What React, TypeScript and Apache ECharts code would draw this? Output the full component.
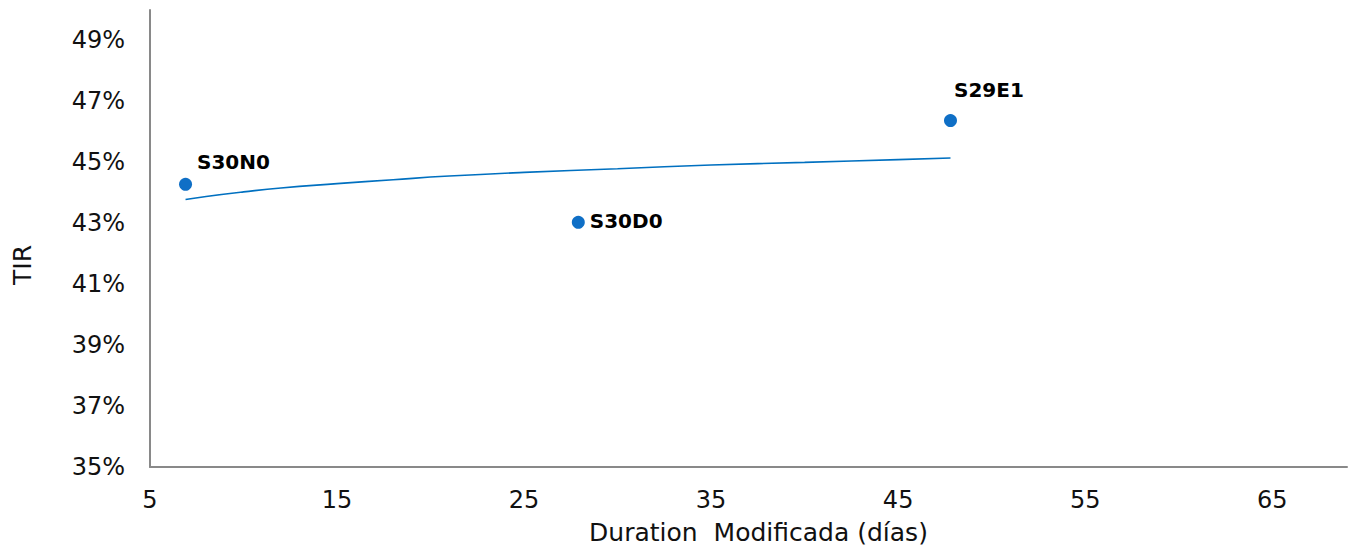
import React, { useEffect, useRef } from "react";
import * as echarts from "echarts";

const bondNames = ["S30N0", "S30D0", "S29E1"];
const bondDuration = [6.9, 27.9, 47.8];
const bondTir = [44.28, 43.03, 46.37];

const trendDuration = [6.9, 8, 10, 12, 15, 18, 21, 25, 30, 35, 40, 45, 47.8];
const trendTir = [43.78, 43.88, 44.03, 44.16, 44.3, 44.43, 44.55, 44.67, 44.79, 44.91, 45.0, 45.09, 45.14];

const FONT = "DejaVu Sans";

export default function App() {
  const ref = useRef<HTMLDivElement>(null);
  useEffect(() => {
    if (!ref.current) return;
    const chart = echarts.init(ref.current, undefined, { renderer: "svg" });
    const labelPos: any[] = [
      { position: "right", offset: [0, -22] },
      { position: "right", offset: [0, -1] },
      { position: "right", offset: [-8, -31] },
    ];
    chart.setOption({
      animation: false,
      grid: { left: 150, right: 1, top: 10, bottom: 79, outerBoundsMode: "none", containLabel: false },
      graphic: [
        {
          type: "text",
          x: 22,
          y: 265,
          rotation: Math.PI / 2,
          style: {
            text: "TIR",
            fontFamily: FONT,
            fontSize: 25,
            fill: "#111",
            align: "center",
            verticalAlign: "middle",
          },
        },
      ],
      xAxis: {
        type: "value",
        min: 5,
        max: 69,
        interval: 10,
        name: "Duration  Modificada (días)",
        nameLocation: "middle",
        nameGap: 53,
        nameTextStyle: { fontFamily: FONT, fontSize: 25, color: "#111", padding: [0, 0, 0, 20] },
        axisLine: { show: true, lineStyle: { color: "#898989", width: 2 } },
        axisTick: { show: false },
        splitLine: { show: false },
        axisLabel: {
          showMaxLabel: false,
          margin: 21,
          fontFamily: FONT,
          fontSize: 24,
          color: "#111",
        },
      },
      yAxis: {
        type: "value",
        min: 35,
        max: 50,
        interval: 2,
        axisLine: { show: true, lineStyle: { color: "#898989", width: 2 } },
        axisTick: { show: false },
        splitLine: { show: false },
        axisLabel: {
          showMaxLabel: false,
          margin: 25,
          fontFamily: FONT,
          fontSize: 24,
          color: "#111",
          formatter: (v: number) => `${v}%`,
        },
      },
      series: [
        {
          type: "line",
          data: trendDuration.map((x, i) => [x, trendTir[i]]),
          showSymbol: false,
          smooth: true,
          lineStyle: { color: "#0070C0", width: 1.6 },
          z: 1,
        },
        {
          type: "scatter",
          symbolSize: 13,
          itemStyle: { color: "#0F6FC6", opacity: 1 },
          data: bondDuration.map((x, i) => ({
            value: [x, bondTir[i]],
            name: bondNames[i],
            label: {
              show: true,
              formatter: bondNames[i],
              fontFamily: FONT,
              fontWeight: "bold",
              fontSize: 20,
              color: "#000",
              ...labelPos[i],
            },
          })),
          z: 2,
        },
      ],
    });
    return () => chart.dispose();
  }, []);
  return (
    <div
      ref={ref}
      style={{ position: "absolute", left: 0, top: 0, width: 1348, height: 546, background: "#fff" }}
    />
  );
}
